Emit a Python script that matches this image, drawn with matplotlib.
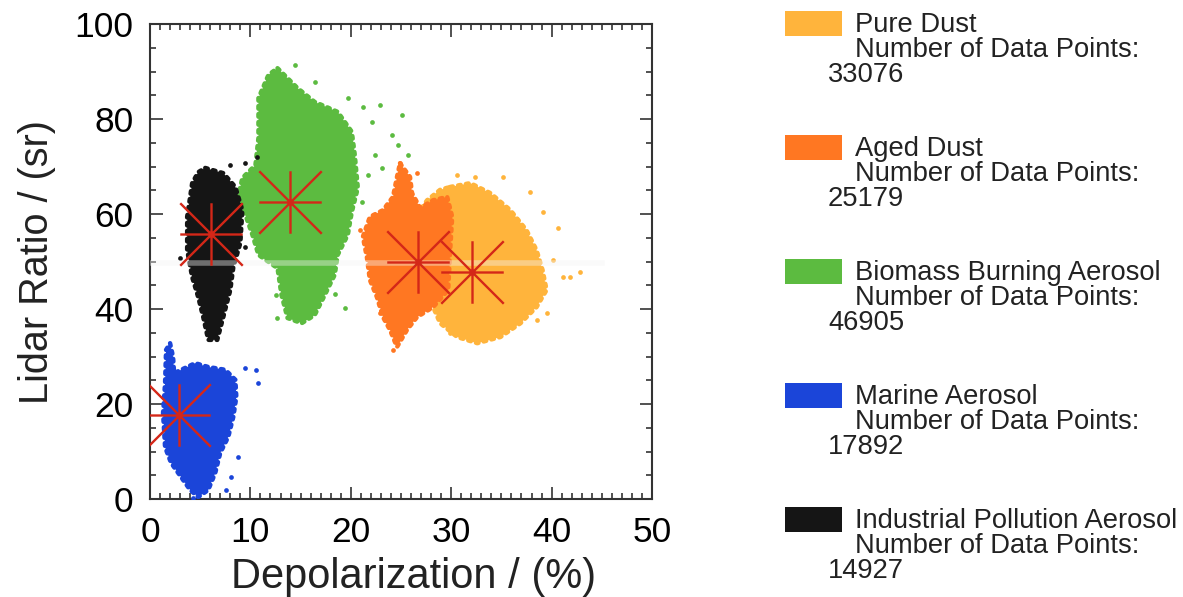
import matplotlib
matplotlib.use("Agg")
import matplotlib.pyplot as plt
from matplotlib.path import Path
from matplotlib.patches import Rectangle
from matplotlib.ticker import MultipleLocator

plt.rcParams['font.family'] = ['Liberation Sans', 'DejaVu Sans']

# ---- data (depolarization %, lidar ratio sr) ----
names = ['Pure Dust', 'Aged Dust', 'Biomass Burning Aerosol',
         'Marine Aerosol', 'Industrial Pollution Aerosol']
counts = [33076, 25179, 46905, 17892, 14927]
colors = ['#ffb43c', '#ff7722', '#5cbb40', '#1b45d9', '#151515']

# mean values (red asterisks)
mean_depol = [32.1, 26.7, 13.9, 2.9, 6.1]
mean_lr = [47.8, 49.9, 62.5, 17.7, 55.8]

# outline of each dense point cloud
pure_depol = [29.9, 31.9, 33.9, 35.9, 37.5, 38.5, 39.1, 39.5, 38.5, 36.9, 34.9,
              32.6, 30.6, 28.9, 28.2, 28.6, 29.2, 26.9, 27.6, 28.9]
pure_lr = [65.7, 66.5, 64.4, 60.8, 56.6, 52.4, 48.2, 44.0, 40.4, 37.0, 34.1,
           32.8, 34.1, 37.0, 40.4, 45.5, 52.4, 60.8, 62.9, 65.1]

aged_depol = [24.9, 25.9, 26.1, 26.9, 28.2, 29.6, 30.1, 29.9, 29.7, 28.2, 26.6,
              25.6, 24.6, 23.9, 23.2, 22.6, 21.9, 21.6, 21.2, 21.9, 23.2, 24.2, 24.6]
aged_lr = [70.7, 67.8, 64.4, 61.3, 62.9, 63.6, 59.4, 52.4, 44.0, 40.4, 38.3,
           35.6, 32.0, 35.6, 38.3, 42.5, 46.1, 50.9, 55.2, 59.4, 60.8, 63.6, 67.8]

bb_depol = [12.7, 14.7, 16.4, 18.7, 20.1, 20.4, 20.7, 20.1, 19.7, 18.7, 18.4,
            17.4, 16.4, 15.1, 13.7, 13.1, 12.7, 10.8, 10.2, 9.5, 8.8, 9.2,
            10.5, 10.8, 10.8, 11.8]
bb_lr = [90.7, 86.5, 83.6, 81.5, 77.3, 72.4, 65.5, 60.4, 55.6, 51.4, 47.2,
         42.9, 38.7, 37.0, 38.1, 42.9, 48.6, 51.4, 55.6, 59.8, 64.0, 67.6,
         70.3, 76.0, 84.4, 89.3]

marine_depol = [2.0, 2.3, 2.4, 3.1, 4.5, 5.8, 7.5, 8.5, 8.6, 8.3, 7.8, 7.0,
                6.5, 5.8, 4.8, 4.0, 3.1, 2.1, 1.5, 1.3, 1.5, 1.6]
marine_lr = [32.8, 29.9, 26.5, 27.2, 28.6, 27.8, 27.2, 25.1, 21.5, 17.3, 13.1,
             9.7, 5.5, 1.9, 0.4, 1.9, 4.6, 7.6, 10.9, 18.1, 24.4, 31.4]

ind_depol = [5.5, 7.3, 8.5, 9.2, 9.0, 8.3, 8.0, 7.3, 6.7, 5.8, 5.3, 4.8, 4.2,
             3.7, 3.7, 4.2, 4.8]
ind_lr = [69.7, 68.6, 65.7, 60.8, 53.9, 48.8, 44.0, 38.3, 33.5, 33.5, 38.3,
          42.5, 46.7, 52.4, 59.4, 66.5, 68.8]

# scattered single points outside the dense clouds
pure_pts_depol = [30.6, 32.4, 35.2, 37.8, 39.1, 40.6, 40.1, 42.8, 41.8, 41.1,
                  39.5, 38.5, 29.9]
pure_pts_lr = [68.2, 67.8, 67.8, 64.6, 60.4, 57.1, 50.3, 47.8, 46.7, 46.7,
               39.2, 37.7, 34.9]
aged_pts_depol = [26.6, 24.9, 24.2, 22.9, 20.9]
aged_pts_lr = [68.6, 70.7, 31.4, 39.2, 56.6]
bb_pts_depol = [14.4, 16.4, 19.7, 21.2, 22.9, 22.1, 24.1, 24.7, 22.4, 23.1,
                21.7, 25.7, 21.1, 19.4, 12.5, 17.4, 25.1, 18.4, 12.6]
bb_pts_lr = [91.4, 87.8, 84.4, 82.5, 82.9, 79.4, 76.6, 74.5, 72.4, 69.7,
             68.2, 72.4, 62.5, 40.2, 42.9, 47.8, 80.8, 43.2, 38.1]
marine_pts_depol = [9.5, 10.6, 10.8, 8.8, 8.1, 7.6, 4.3]
marine_pts_lr = [27.6, 27.2, 24.4, 8.8, 4.6, 1.9, 0.2]
ind_pts_depol = [10.7, 9.5, 8.0, 3.0, 9.5]
ind_pts_lr = [72.0, 70.7, 70.3, 50.7, 53.1]

clouds = [
    (pure_depol, pure_lr, pure_pts_depol, pure_pts_lr),
    (aged_depol, aged_lr, aged_pts_depol, aged_pts_lr),
    (bb_depol, bb_lr, bb_pts_depol, bb_pts_lr),
    (ind_depol, ind_lr, ind_pts_depol, ind_pts_lr),
    (marine_depol, marine_lr, marine_pts_depol, marine_pts_lr),
]
cloud_colors = [colors[0], colors[1], colors[2], colors[4], colors[3]]

# IDL style asterisk
star = Path([(-1, 0), (1, 0), (0, -1), (0, 1), (-1, -1), (1, 1), (-1, 1), (1, -1)],
            [Path.MOVETO, Path.LINETO] * 4)

W, H = 1183, 597
fig = plt.figure(figsize=(W / 100, H / 100), dpi=100)
ax = fig.add_axes([150 / W, 1 - 499 / H, 502 / W, 475 / H])

for i, (xd, yd, xp, yp) in enumerate(clouds):
    c = cloud_colors[i]
    ax.fill(xd, yd, color=c, lw=0, zorder=2 + i)
    # dotted rim gives the grainy edge of a dense scatter
    ax.plot(xd + xd[:1], yd + yd[:1], ls=(0, (0.6, 1.2)), lw=3.2, color=c,
            dash_capstyle='round', zorder=2 + i)
    ax.plot(xp, yp, 'o', ms=3.4, color=c, mec='none', zorder=2 + i)

# faint band visible across the original image
ax.axhline(49.7, xmin=0, xmax=0.9, color='#f4f4f4', alpha=0.4, lw=4, zorder=8)

ax.plot(mean_depol, mean_lr, ls='none', marker=star, ms=45, mew=1.7,
        color='#d42718', zorder=10)

ax.set_xlim(0, 50)
ax.set_ylim(0, 100)
ax.xaxis.set_major_locator(MultipleLocator(10))
ax.xaxis.set_minor_locator(MultipleLocator(1))
ax.yaxis.set_major_locator(MultipleLocator(20))
ax.yaxis.set_minor_locator(MultipleLocator(5))
ax.tick_params(which='both', direction='in', top=True, right=True,
               labelsize=25.5, color='#333333', width=1.2)
ax.tick_params(which='major', length=9, pad=12)
ax.tick_params(which='minor', length=4.5)
for sp in ax.spines.values():
    sp.set_linewidth(1.5)
    sp.set_color('#333333')

fig.canvas.draw()
ylabels = ax.get_yticklabels()
ylabels[0].set_va('bottom')
ylabels[-1].set_va('top')

ax.set_xlabel('Depolarization / (%)', fontsize=30, labelpad=6, color='#222222')
ax.xaxis.label.set_x(0.526)
ax.set_ylabel('Lidar Ratio / (sr)', fontsize=28.5, labelpad=13, color='#222222')

# legend drawn as boxes and text lines
for k, (name, n, c) in enumerate(zip(names, counts, colors)):
    top = 11 + 124 * k
    fig.add_artist(Rectangle((785 / W, 1 - (top + 25) / H), 57 / W, 25 / H,
                             transform=fig.transFigure, color=c, lw=0))
    fig.text(855 / W, 1 - (top + 21) / H, name, fontsize=19.7, color='#222222')
    fig.text(855 / W, 1 - (top + 46) / H, 'Number of Data Points:',
             fontsize=19.7, color='#222222')
    fig.text(828 / W, 1 - (top + 71) / H, str(n), fontsize=19.7, color='#222222')

fig.savefig('out.png', dpi=100)
